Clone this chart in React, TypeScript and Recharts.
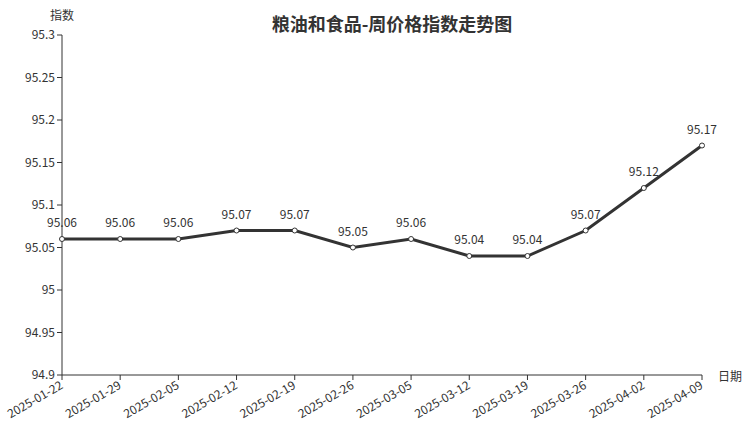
import React from "react";
import { LineChart, Line, XAxis, YAxis, LabelList } from "recharts";

const dates = [
  "2025-01-22", "2025-01-29", "2025-02-05", "2025-02-12", "2025-02-19", "2025-02-26",
  "2025-03-05", "2025-03-12", "2025-03-19", "2025-03-26", "2025-04-02", "2025-04-09",
];
const indexValues = [95.06, 95.06, 95.06, 95.07, 95.07, 95.05, 95.06, 95.04, 95.04, 95.07, 95.12, 95.17];
const yTicks = [94.9, 94.95, 95, 95.05, 95.1, 95.15, 95.2, 95.25, 95.3];

const data = dates.map((d, i) => ({ date: d, value: indexValues[i] }));

const FONT = '"Noto Sans CJK SC", "Noto Sans", sans-serif';
const TEXT = "#333";

const XTick = (props: any) => {
  const { x, y, payload } = props;
  const ax = x - 1;
  const ay = y + 1;
  return (
    <text
      x={ax}
      y={ay}
      transform={`rotate(-30, ${ax}, ${ay})`}
      textAnchor="end"
      dominantBaseline="central"
      fontSize={12}
      fill={TEXT}
      fontFamily={FONT}
    >
      {payload.value}
    </text>
  );
};

export default function App() {
  return (
    <div style={{ position: "relative", width: 752, height: 427, fontFamily: FONT }}>
      <style>{"body{margin:0}"}</style>
      <div
        style={{
          position: "absolute",
          left: 0,
          width: 784,
          top: 10,
          textAlign: "center",
          fontSize: 18,
          fontWeight: "bold",
          color: TEXT,
          lineHeight: "26px",
        }}
      >
        粮油和食品-周价格指数走势图
      </div>
      <div style={{ position: "absolute", left: 50, top: 6, fontSize: 12, color: TEXT }}>指数</div>
      <div style={{ position: "absolute", left: 718, top: 367, fontSize: 12, color: TEXT }}>日期</div>
      <LineChart width={752} height={427} data={data} margin={{ top: 35, right: 50, left: 0, bottom: 0 }}>
        <XAxis
          dataKey="date"
          height={52}
          interval={0}
          tick={<XTick />}
          tickSize={5}
          axisLine={{ stroke: TEXT }}
          tickLine={{ stroke: TEXT }}
        />
        <YAxis
          width={62}
          domain={[94.9, 95.3]}
          ticks={yTicks}
          interval={0}
          tickSize={5}
          tick={{ fontSize: 12, fill: TEXT, fontFamily: FONT }}
          tickFormatter={(v: number) => String(v)}
          axisLine={{ stroke: TEXT }}
          tickLine={{ stroke: TEXT }}
        />
        <Line
          type="linear"
          dataKey="value"
          stroke="#333"
          strokeWidth={3}
          dot={{ r: 2.5, fill: "#fff", stroke: "#333", strokeWidth: 1 }}
          isAnimationActive={false}
        >
          <LabelList dataKey="value" position="top" offset={12} fontSize={12} fill={TEXT} fontFamily={FONT} />
        </Line>
      </LineChart>
    </div>
  );
}
